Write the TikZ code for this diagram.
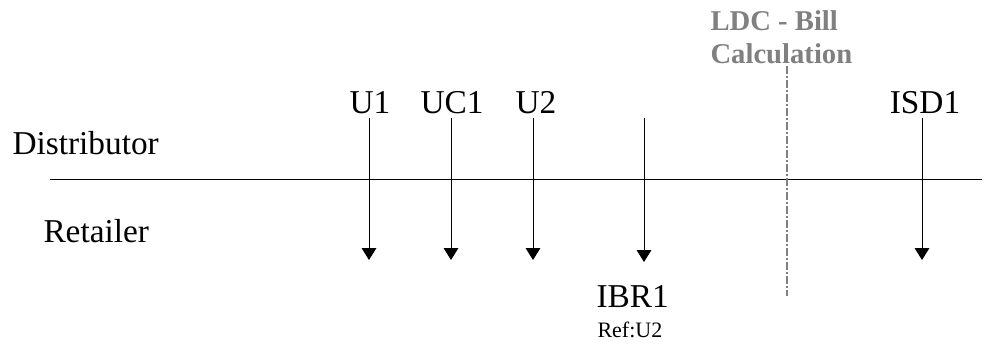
\documentclass[tikz,border=0pt]{standalone}
\usepackage{fontspec}
\setmainfont{Liberation Serif}
\usetikzlibrary{arrows.meta}

\begin{document}
\begin{tikzpicture}[x=0.75pt, y=-0.75pt, line width=0.75pt,
  font=\fontsize{25}{29}\selectfont,
  lbl/.style={anchor=base, inner sep=0pt},
  msg/.style={-{Triangle[length=9pt,width=11pt]}, shorten <=3pt}]
  \useasboundingbox (0,0) rectangle (995,344);
  % the two parties and the line between them
  \node[lbl, anchor=base west] (dist) at (12,154) {Distributor};
  \node[lbl, anchor=base west] (ret) at (43,242) {Retailer};
  \coordinate (lineL) at (50,179);
  \coordinate (lineR) at (982,179);
  \draw (lineL) -- (lineR);
  % messages sent from distributor to retailer
  \foreach \nm/\x/\lx/\txt in {u1/369/370/U1, uc1/451/452/UC1, u2/533/536/U2, isd1/922/925/ISD1} {
    \node[lbl] (\nm) at (\lx,113) {\txt};
    \coordinate (\nm end) at (\x,260);
    \draw[msg] (\nm.south -| \nm end) -- (\nm end);
  }
  % IBR1 has its label under the arrow
  \coordinate (ibrtop) at (644,118);
  \coordinate (ibrend) at (644,262);
  \draw[msg, shorten <=0pt] (ibrtop) -- (ibrend);
  \node[lbl, anchor=base west] (ibr) at (596,307) {IBR1};
  \node[lbl, anchor=base west, font=\fontsize{16.5}{19}\selectfont] (ref) at (597,337) {Ref:U2};
  % bill calculation cut-off
  \node[lbl, anchor=base west, text=gray, font=\fontsize{21.5}{25}\selectfont\bfseries] (ldc) at (710,30) {LDC - Bill};
  \node[lbl, anchor=base west, text=gray, font=\fontsize{21.5}{25}\selectfont\bfseries] (calc) at (710,63) {Calculation};
  \coordinate (cuttop) at (787,66);
  \coordinate (cutend) at (787,296);
  \draw[gray, line width=1.5pt, dash pattern=on 6pt off 1.5pt on 1.5pt off 1.5pt] (cuttop) -- (cutend);
\end{tikzpicture}
\end{document}
